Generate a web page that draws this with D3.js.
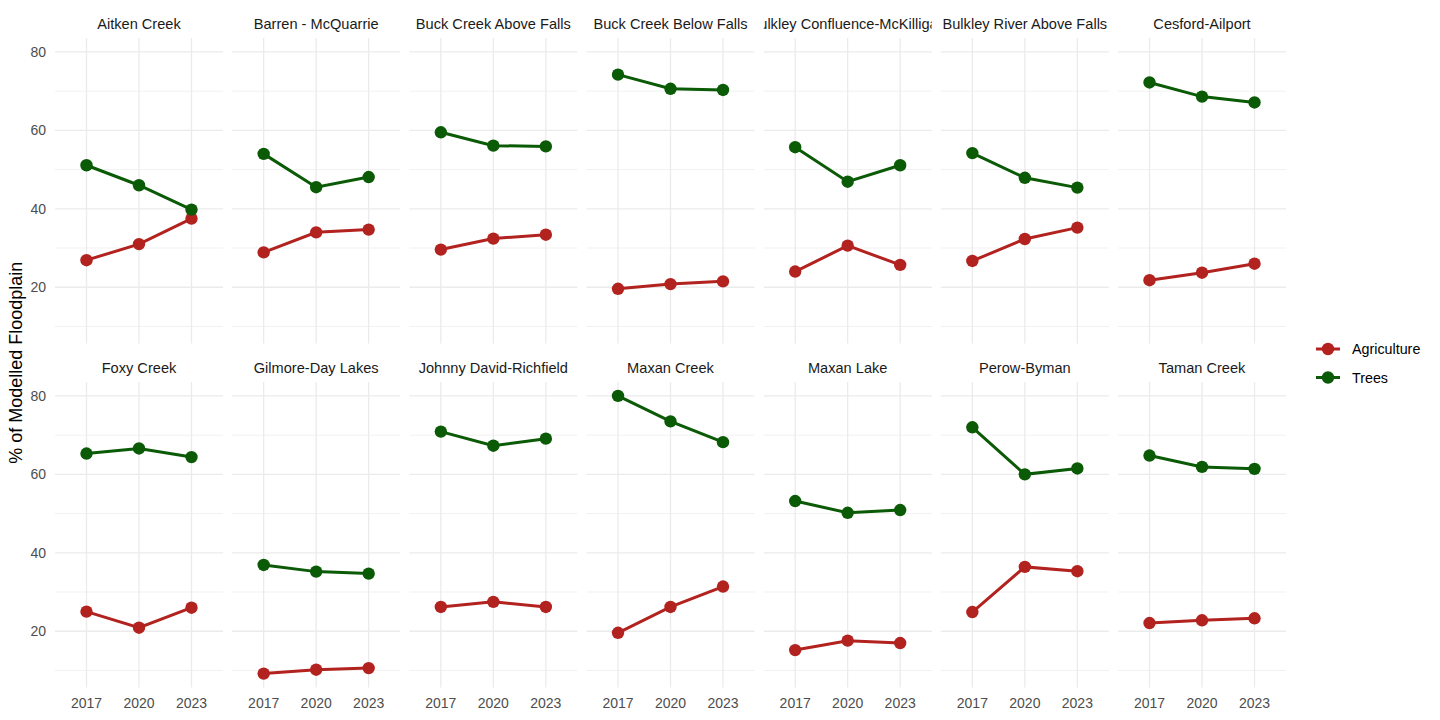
<!DOCTYPE html>
<html>
<head>
<meta charset="utf-8">
<script src="https://cdn.jsdelivr.net/npm/d3@7"></script>
<style>
  body { margin: 0; background: #fff; }
  text { font-family: "Liberation Sans", Arial, Helvetica, sans-serif; }
</style>
</head>
<body>
<div id="chart"></div>
<script>
// facet names, in panel order
const sites = [
  "Aitken Creek", "Barren - McQuarrie", "Buck Creek Above Falls", "Buck Creek Below Falls",
  "Bulkley Confluence-McKilligan", "Bulkley River Above Falls", "Cesford-Ailport",
  "Foxy Creek", "Gilmore-Day Lakes", "Johnny David-Richfield", "Maxan Creek",
  "Maxan Lake", "Perow-Byman", "Taman Creek"
];
const years = ["2017", "2020", "2023"];
const classes = ["Agriculture", "Trees"];

// % of modelled floodplain, one row per site, values for 2017, 2020, 2023
const agriculture = [
  [26.9, 31.0, 37.5], [28.9, 34.0, 34.7], [29.6, 32.4, 33.4], [19.6, 20.8, 21.5],
  [24.0, 30.6, 25.7], [26.7, 32.3, 35.2], [21.8, 23.7, 26.0],
  [25.0, 20.9, 26.0], [9.2, 10.2, 10.6], [26.2, 27.5, 26.2], [19.6, 26.2, 31.4],
  [15.2, 17.6, 17.0], [24.9, 36.4, 35.3], [22.1, 22.8, 23.3]
];
const trees = [
  [51.1, 46.0, 39.8], [54.0, 45.5, 48.1], [59.5, 56.1, 55.9], [74.2, 70.6, 70.3],
  [55.7, 46.9, 51.1], [54.2, 47.9, 45.4], [72.2, 68.6, 67.1],
  [65.3, 66.6, 64.4], [36.9, 35.2, 34.7], [70.9, 67.3, 69.1], [80.0, 73.5, 68.2],
  [53.2, 50.2, 50.9], [72.0, 60.0, 61.5], [64.8, 61.9, 61.4]
];
const yMajor = [20, 40, 60, 80];
const yMinor = [10, 30, 50, 70];

const colors = { Agriculture: "#b2221f", Trees: "#0a5a06" };
const seriesValues = { Agriculture: agriculture, Trees: trees };

const W = 1440, H = 720;
const nCols = 7;
const panelLeft = 55, panelStep = 177.17, panelW = 168;
const rowTop = [38, 382], panelH = 305.5;

const svg = d3.select("#chart").append("svg")
  .attr("width", W).attr("height", H);

// common y range over all data, ggplot-like 5% expansion
const allVals = agriculture.flat().concat(trees.flat());
const yMin = d3.min(allVals), yMax = d3.max(allVals);
const pad = (yMax - yMin) * 0.05;

const x = d3.scalePoint().domain(years).range([0, panelW]).padding(0.6);

sites.forEach((site, i) => {
  const col = i % nCols, row = Math.floor(i / nCols);
  const px = panelLeft + col * panelStep, py = rowTop[row];
  const y = d3.scaleLinear().domain([yMin - pad, yMax + pad]).range([panelH, 0]);

  const g = svg.append("g").attr("transform", `translate(${px},${py})`);

  // grid
  g.selectAll(".minor").data(yMinor).enter().append("line")
    .attr("x1", 0).attr("x2", panelW)
    .attr("y1", d => y(d)).attr("y2", d => y(d))
    .attr("stroke", "#ebebeb").attr("stroke-width", 0.7);
  g.selectAll(".major").data(yMajor).enter().append("line")
    .attr("x1", 0).attr("x2", panelW)
    .attr("y1", d => y(d)).attr("y2", d => y(d))
    .attr("stroke", "#ebebeb").attr("stroke-width", 1.3);
  g.selectAll(".vgrid").data(years).enter().append("line")
    .attr("x1", d => x(d)).attr("x2", d => x(d))
    .attr("y1", 0).attr("y2", panelH)
    .attr("stroke", "#ebebeb").attr("stroke-width", 1.3);

  // strip label, clipped to the panel width
  const clipId = "clip" + i;
  svg.append("clipPath").attr("id", clipId)
    .append("rect").attr("x", px).attr("y", py - 32).attr("width", panelW).attr("height", 30);
  svg.append("text")
    .attr("clip-path", `url(#${clipId})`)
    .attr("x", px + panelW / 2).attr("y", py - 9)
    .attr("text-anchor", "middle")
    .attr("font-size", 14.6).attr("fill", "#1a1a1a")
    .text(site);

  // series
  classes.forEach(cls => {
    const vals = seriesValues[cls][i];
    const pts = years.map((yr, j) => ({ yr, v: vals[j] }));
    g.append("path")
      .datum(pts)
      .attr("fill", "none")
      .attr("stroke", colors[cls])
      .attr("stroke-width", 3)
      .attr("d", d3.line().x(d => x(d.yr)).y(d => y(d.v)));
    g.selectAll(".pt-" + cls).data(pts).enter().append("circle")
      .attr("cx", d => x(d.yr)).attr("cy", d => y(d.v))
      .attr("r", 6.2).attr("fill", colors[cls]);
  });

  // y axis labels on the first column
  if (col === 0) {
    g.selectAll(".ylab").data(yMajor).enter().append("text")
      .attr("x", -9).attr("y", d => y(d)).attr("dy", "0.35em")
      .attr("text-anchor", "end")
      .attr("font-size", 14).attr("fill", "#4d4d4d")
      .text(d => d);
  }
  // x axis labels on the bottom row
  if (row === 1) {
    g.selectAll(".xlab").data(years).enter().append("text")
      .attr("x", d => x(d)).attr("y", panelH + 20)
      .attr("text-anchor", "middle")
      .attr("font-size", 14).attr("fill", "#4d4d4d")
      .text(d => d);
  }
});

// y axis title
svg.append("text")
  .attr("transform", `translate(22,${(rowTop[0] + rowTop[1] + panelH) / 2}) rotate(-90)`)
  .attr("text-anchor", "middle")
  .attr("font-size", 18).attr("fill", "#000")
  .text("% of Modelled Floodplain");

// legend
const legend = svg.append("g").attr("transform", "translate(1316,349)");
classes.forEach((cls, k) => {
  const lg = legend.append("g").attr("transform", `translate(0,${k * 28.5})`);
  lg.append("line").attr("x1", 0).attr("x2", 24).attr("y1", 0).attr("y2", 0)
    .attr("stroke", colors[cls]).attr("stroke-width", 3);
  lg.append("circle").attr("cx", 12).attr("cy", 0).attr("r", 6.2).attr("fill", colors[cls]);
  lg.append("text").attr("x", 36).attr("y", 0).attr("dy", "0.35em")
    .attr("font-size", 14.3).attr("fill", "#000").text(cls);
});
</script>
</body>
</html>
